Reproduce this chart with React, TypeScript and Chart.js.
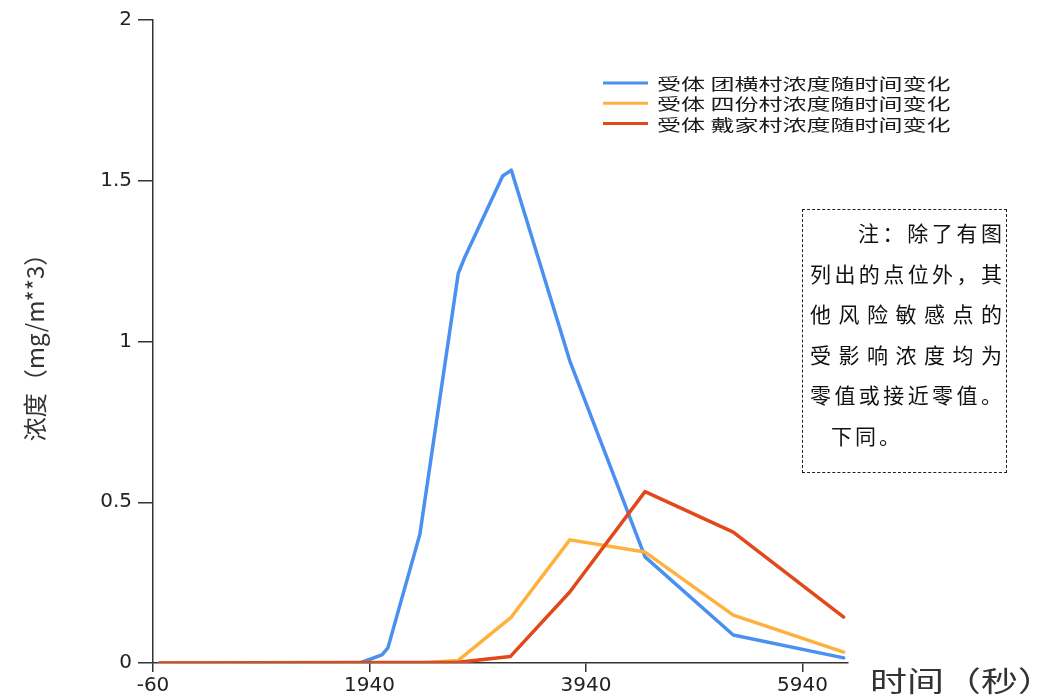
import React, { useEffect, useRef } from "react";
import { Chart, registerables } from "chart.js";

Chart.register(...registerables);

// ---- data ----
const seriesNames = [
  "受体 团横村浓度随时间变化",
  "受体 四份村浓度随时间变化",
  "受体 戴家村浓度随时间变化",
];
const seriesColors = ["#4a90f0", "#ffb13d", "#e2491a"];

const tuanhengTimes = [0, 1850, 2055, 2110, 2405, 2760, 2820, 3170, 3250, 3790, 4485, 5300, 6320];
const tuanhengValues = [0, 0, 0.025, 0.047, 0.4, 1.212, 1.262, 1.515, 1.533, 0.94, 0.33, 0.087, 0.016];

const sifenTimes = [0, 2405, 2760, 3250, 3790, 4485, 5300, 6320];
const sifenValues = [0, 0, 0.008, 0.143, 0.383, 0.345, 0.149, 0.034];

const daijiaTimes = [0, 2760, 3240, 3790, 4485, 5300, 6320];
const daijiaValues = [0, 0.002, 0.02, 0.221, 0.533, 0.407, 0.143];

const xTickValues = [-60, 1940, 3940, 5940];
const xMin = -60;
const xMax = 6360;
const yMin = 0;
const yMax = 2;
const yStep = 0.5;

const xAxisTitle = "时间（秒）";
const yAxisTitle = "浓度（mg/m**3）";

const noteLines = [
  "注：除了有图",
  "列出的点位外，其",
  "他风险敏感点的",
  "受影响浓度均为",
  "零值或接近零值。",
  "下同。",
];

const toPoints = (xs: number[], ys: number[]) => xs.map((x, i) => ({ x, y: ys[i] }));

const overlayPlugin = {
  id: "overlayText",
  afterDraw(chart: any) {
    const ctx = chart.ctx as CanvasRenderingContext2D;
    const area = chart.chartArea;
    ctx.save();
    // legend
    const lx = 603;
    const ly0 = 83;
    const dy = 20.3;
    chart.data.datasets.forEach((ds: any, i: number) => {
      const y = ly0 + i * dy;
      ctx.strokeStyle = ds.borderColor;
      ctx.lineWidth = 3;
      ctx.lineCap = "butt";
      ctx.beginPath();
      ctx.moveTo(lx, y);
      ctx.lineTo(lx + 45, y);
      ctx.stroke();
      ctx.save();
      ctx.translate(lx + 54, y + 1);
      ctx.scale(1.5, 1);
      ctx.font = '16px "Noto Sans CJK SC"';
      ctx.fillStyle = "#1a1a1a";
      ctx.textBaseline = "middle";
      ctx.textAlign = "left";
      ctx.fillText(ds.label, 0, 0);
      ctx.restore();
    });
    // x axis title at the right end of the axis
    ctx.save();
    ctx.translate(area.right + 22, area.bottom + 18);
    ctx.scale(1.32, 1);
    ctx.font = '28px "Noto Sans CJK SC"';
    ctx.fillStyle = "#333";
    ctx.textBaseline = "middle";
    ctx.textAlign = "left";
    ctx.fillText(xAxisTitle, 0, 0);
    ctx.restore();
    ctx.restore();
  },
};

export default function App() {
  const ref = useRef<HTMLCanvasElement>(null);

  useEffect(() => {
    const canvas = ref.current!;
    const axisColor = "#333";
    const tickFont = { family: '"DejaVu Sans"', size: 20 };
    const chart = new Chart(canvas, {
      type: "line",
      data: {
        datasets: [
          {
            label: seriesNames[0],
            data: toPoints(tuanhengTimes, tuanhengValues),
            borderColor: seriesColors[0],
            order: 3,
          },
          {
            label: seriesNames[1],
            data: toPoints(sifenTimes, sifenValues),
            borderColor: seriesColors[1],
            order: 2,
          },
          {
            label: seriesNames[2],
            data: toPoints(daijiaTimes, daijiaValues),
            borderColor: seriesColors[2],
            order: 1,
          },
        ] as any,
      },
      options: {
        animation: false,
        responsive: false,
        devicePixelRatio: 1,
        layout: { padding: { top: 20, right: 202, bottom: 0, left: 0 } },
        elements: {
          line: { borderWidth: 3.5, tension: 0, fill: false, borderJoinStyle: "round", borderCapStyle: "round" },
          point: { radius: 0, hoverRadius: 0 },
        },
        plugins: {
          legend: { display: false },
          tooltip: { enabled: false },
        },
        scales: {
          x: {
            type: "linear",
            min: xMin,
            max: xMax,
            afterBuildTicks: (scale: any) => {
              scale.ticks = xTickValues.map((value) => ({ value }));
            },
            afterFit: (scale: any) => {
              scale.height = 35;
            },
            ticks: {
              autoSkip: false,
              maxRotation: 0,
              padding: 2,
              color: "#222",
              font: tickFont,
              callback: (v: any) => String(v),
            },
            grid: {
              display: true,
              drawOnChartArea: false,
              drawTicks: true,
              tickLength: 9,
              color: axisColor,
              lineWidth: 1.5,
            },
            border: { display: true, color: axisColor, width: 1.5 },
          },
          y: {
            type: "linear",
            min: yMin,
            max: yMax,
            afterFit: (scale: any) => {
              scale.width = 153;
            },
            ticks: {
              stepSize: yStep,
              padding: 6,
              color: "#222",
              font: tickFont,
              callback: (v: any) => String(v),
            },
            grid: {
              display: true,
              drawOnChartArea: false,
              drawTicks: true,
              tickLength: 15,
              color: axisColor,
              lineWidth: 1.5,
            },
            border: { display: true, color: axisColor, width: 1.5 },
            title: {
              display: true,
              text: yAxisTitle,
              color: "#333",
              font: { family: '"Noto Sans CJK SC"', size: 24 },
              padding: { top: 20, bottom: 0 },
            },
          },
        },
      } as any,
      plugins: [overlayPlugin],
    });
    return () => chart.destroy();
  }, []);

  return (
    <div style={{ position: "fixed", left: 0, top: 0, width: 1050, height: 698, background: "#fff" }}>
      <canvas ref={ref} width={1050} height={698} style={{ position: "absolute", left: 0, top: 0 }} />
      <div
        style={{
          position: "absolute",
          left: 802,
          top: 209,
          width: 205,
          height: 264,
          boxSizing: "border-box",
          border: "1px dashed #222",
          padding: "2px 4px 0 7px",
          fontFamily: '"Noto Sans CJK SC"',
          fontSize: 21,
          lineHeight: "40.6px",
          color: "#111",
        }}
      >
        {noteLines.map((line, i) => {
          const last = i === noteLines.length - 1;
          if (last) {
            return (
              <div key={i} style={{ paddingLeft: 21, letterSpacing: 3, whiteSpace: "nowrap" }}>
                {line}
              </div>
            );
          }
          return (
            <div
              key={i}
              style={{
                display: "flex",
                justifyContent: "space-between",
                paddingLeft: i === 0 ? 48 : 0,
                whiteSpace: "nowrap",
              }}
            >
              {Array.from(line).map((c, j) => (
                <span key={j}>{c}</span>
              ))}
            </div>
          );
        })}
      </div>
    </div>
  );
}
